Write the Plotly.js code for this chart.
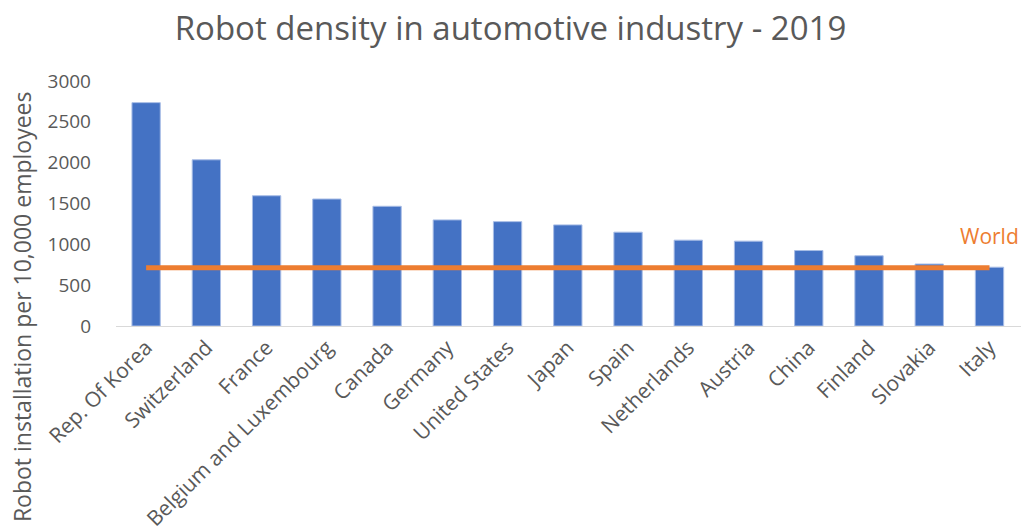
<!DOCTYPE html>
<html>
<head>
<meta charset="utf-8">
<script src="https://cdn.plot.ly/plotly-3.0.1.min.js"></script>
<style>html,body{margin:0;padding:0;background:#fff;}#chart{width:1021px;height:531px;}</style>
</head>
<body>
<div id="chart"></div>
<script>
const countries = ["Rep. Of Korea","Switzerland","France","Belgium and Luxembourg","Canada","Germany","United States","Japan","Spain","Netherlands","Austria","China","Finland","Slovakia","Italy"];
const density = [2735,2035,1595,1555,1466,1299,1278,1238,1149,1051,1039,924,860,759,720];
const worldAvg = 713;
const worldLine = countries.map(() => worldAvg);
const yTicks = [0,500,1000,1500,2000,2500,3000];

const textColor = '#595959';
const fontFam = '"Open Sans", "DejaVu Sans", sans-serif';

const traces = [
  {
    type: 'bar',
    x: countries,
    y: density,
    marker: {color: '#4472C4', line: {color: '#a8bde6', width: 1}},
    hoverinfo: 'x+y',
    showlegend: false
  },
  {
    type: 'scatter',
    mode: 'lines',
    x: countries,
    y: worldLine,
    line: {color: '#ED7D31', width: 5},
    name: 'World',
    showlegend: false
  }
];

const L = 116, T = 80.5, W = 905, H = 246;
const layout = {
  width: 1021,
  height: 531,
  margin: {l: L, r: 0, t: T, b: 531 - T - H, pad: 0},
  paper_bgcolor: '#ffffff',
  plot_bgcolor: '#ffffff',
  font: {family: fontFam, color: textColor, size: 19},
  bargap: 0.53,
  title: {
    text: 'Robot density in automotive industry - 2019',
    font: {family: fontFam, size: 33, color: textColor},
    xref: 'container', x: 0.5, xanchor: 'center',
    yref: 'container', y: 1 - 28/531, yanchor: 'middle'
  },
  xaxis: {
    type: 'category',
    tickangle: -45,
    showgrid: false,
    showline: true,
    linecolor: '#d9d9d9',
    linewidth: 1,
    ticks: '',
    tickfont: {family: fontFam, size: 21, color: textColor},
    fixedrange: true
  },
  yaxis: {
    range: [0, 3000],
    tickvals: yTicks,
    showgrid: false,
    zeroline: false,
    showline: false,
    ticks: '',
    ticklabelstandoff: 24,
    tickfont: {family: fontFam, size: 19, color: textColor},
    fixedrange: true
  },
  annotations: [
    {
      text: 'Robot installation per 10,000 employees',
      xref: 'paper', yref: 'paper',
      x: (22 - L) / W, y: (T + H - 307.5) / H,
      xanchor: 'center', yanchor: 'middle',
      textangle: -90,
      showarrow: false,
      font: {family: fontFam, size: 23, color: textColor}
    },
    {
      text: 'World',
      xref: 'x', yref: 'y',
      x: countries[countries.length - 1], y: worldAvg,
      yshift: 32,
      xanchor: 'center', yanchor: 'middle',
      showarrow: false,
      font: {family: fontFam, size: 21, color: '#ED7D31'}
    }
  ]
};

Plotly.newPlot('chart', traces, layout, {displayModeBar: false, staticPlot: true});
</script>
</body>
</html>
